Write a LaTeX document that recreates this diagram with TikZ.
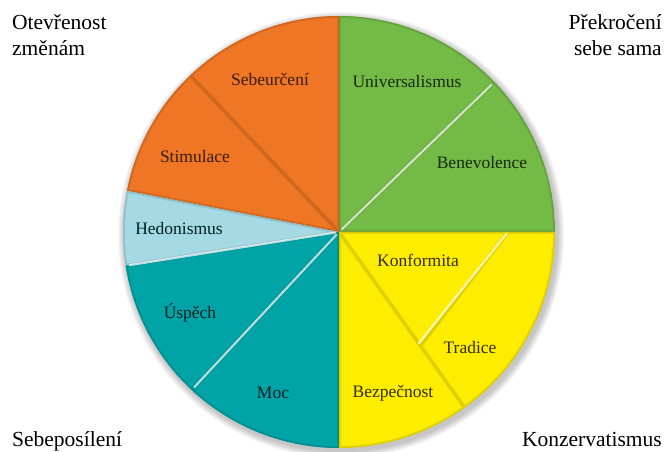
\documentclass[tikz,border=0pt]{standalone}
\usepackage{fontspec}
\setmainfont{Liberation Serif}
\definecolor{cOrange}{RGB}{238,118,36}
\definecolor{cGreen}{RGB}{116,186,70}
\definecolor{cYellow}{RGB}{255,237,0}
\definecolor{cTeal}{RGB}{0,164,166}
\definecolor{cLight}{RGB}{165,218,228}
\tikzset{
  lab/.style={font=\fontsize{17.5}{19}\selectfont, inner sep=0pt},
  corner/.style={font=\fontsize{21.5}{26}\selectfont, inner sep=0pt},
  hilite/.style={white, line width=2.2pt, opacity=0.7, line cap=round},
}
\newcommand\R{216pt}
% #1 colour, #2 path
\newcommand\shadedpart[2]{%
  \begin{scope}
    \clip #2;
    \fill[#1] #2;
    \draw[#1!70!black, line width=4pt, opacity=0.3] #2;
    \draw[#1!80!black, line width=1.6pt, opacity=0.45] #2;
  \end{scope}}
\begin{document}
\begin{tikzpicture}[x=1pt,y=1pt]
\useasboundingbox (0,0) rectangle (667,452);
\coordinate (C) at (339,220);
% soft shadow
\foreach \i in {1,...,7}{
  \fill[black, opacity=0.035] ([shift={(2pt,-3pt)}]C) circle[radius={216pt+\i pt}];
}
% yellow quadrant geometry
\coordinate (P2) at ([shift={(0:169pt)}]C);
\coordinate (P1) at ([shift={(-54.4:140pt)}]C);
% sectors
\shadedpart{cGreen}{(C) -- ++(44:\R) arc[start angle=44,end angle=90,radius=\R] -- cycle}
\shadedpart{cGreen}{(C) -- ++(0:\R) arc[start angle=0,end angle=44,radius=\R] -- cycle}
\shadedpart{cOrange}{(C) -- ++(90:\R) arc[start angle=90,end angle=133.5,radius=\R] -- cycle}
\shadedpart{cOrange}{(C) -- ++(133.5:\R) arc[start angle=133.5,end angle=169,radius=\R] -- cycle}
\shadedpart{cLight}{(C) -- ++(169:\R) arc[start angle=169,end angle=189,radius=\R] -- cycle}
\shadedpart{cTeal}{(C) -- ++(189:\R) arc[start angle=189,end angle=227,radius=\R] -- cycle}
\shadedpart{cTeal}{(C) -- ++(227:\R) arc[start angle=227,end angle=270,radius=\R] -- cycle}
\shadedpart{cYellow}{(C) -- ++(270:\R) arc[start angle=270,end angle=305.6,radius=\R] -- cycle}
\shadedpart{cYellow}{(C) -- (P2) -- (P1) -- cycle}
\shadedpart{cYellow}{(P2) -- ++(0:47pt) arc[start angle=0,end angle=-54.4,radius=\R] -- (P1) -- cycle}
% highlight separators
\coordinate (E44) at ([shift={(44:212pt)}]C);
\coordinate (E227) at ([shift={(227:212pt)}]C);
\coordinate (E189) at ([shift={(189:212pt)}]C);
\draw[hilite] ([shift={(44:4pt)}]C) -- (E44);
\draw[hilite] ([shift={(227:4pt)}]C) -- (E227);
\draw[hilite] ([shift={(189:4pt)}]C) -- (E189);
\draw[hilite] ([shift={(124:3pt)}]P1) -- ([shift={(230:2pt)}]P2);
% labels
\node[lab, text=cGreen!22!black] (univ) at (407,370) {Universalismus};
\node[lab, text=cGreen!22!black] (bene) at (482,289) {Benevolence};
\node[lab, text=cOrange!25!black] (sebe) at (270,372) {Sebeurčení};
\node[lab, text=cOrange!25!black] (stim) at (195,295) {Stimulace};
\node[lab, text=cTeal!20!black] (hedo) at (179,223) {Hedonismus};
\node[lab, text=cTeal!20!black] (uspe) at (190,139) {Úspěch};
\node[lab, text=cTeal!20!black] (moc) at (273,59) {Moc};
\node[lab, text=cYellow!20!black] (konf) at (418,192) {Konformita};
\node[lab, text=cYellow!20!black] (trad) at (470,104) {Tradice};
\node[lab, text=cYellow!20!black] (bezp) at (393,59) {Bezpečnost};
% corner labels
\node[corner, anchor=north west, align=left] (ote) at (12,438) {Otevřenost\\změnám};
\node[corner, anchor=north east, align=right] (pre) at (662,438) {Překročení\\sebe sama};
\node[corner, anchor=base west] (sebp) at (12,5) {Sebeposílení};
\node[corner, anchor=base east] (konz) at (662,5) {Konzervatismus};
\end{tikzpicture}
\end{document}
